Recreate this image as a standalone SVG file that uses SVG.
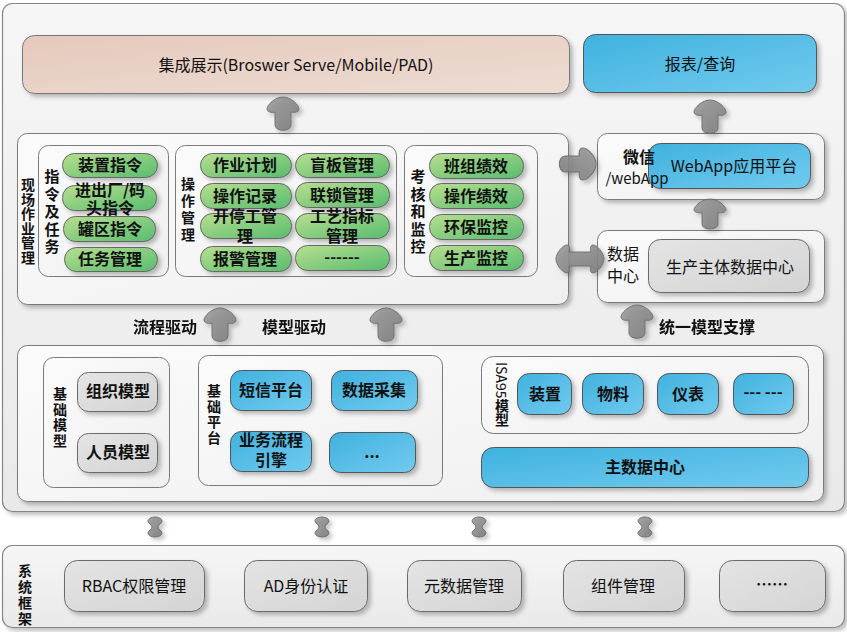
<svg xmlns="http://www.w3.org/2000/svg" xmlns:xlink="http://www.w3.org/1999/xlink" width="847" height="632" viewBox="0 0 847 632">
<defs>
<linearGradient id="gOuter" x1="0" y1="0" x2="0" y2="1"><stop offset="0" stop-color="#f6f6f6"/><stop offset="1" stop-color="#e9e9e9"/></linearGradient>
<linearGradient id="gBox" x1="0" y1="0" x2="1" y2="1"><stop offset="0" stop-color="#fbfbfb"/><stop offset="1" stop-color="#efefef"/></linearGradient>
<linearGradient id="gGreen" x1="0" y1="0" x2="1" y2="1"><stop offset="0" stop-color="#b8de90"/><stop offset="1" stop-color="#58bc6e"/></linearGradient>
<linearGradient id="gBlue" x1="0" y1="0" x2="1" y2="1"><stop offset="0" stop-color="#3fb2df"/><stop offset="1" stop-color="#72caee"/></linearGradient>
<linearGradient id="gGray" x1="0" y1="0" x2="1" y2="1"><stop offset="0" stop-color="#e4e4e4"/><stop offset="1" stop-color="#d4d4d4"/></linearGradient>
<linearGradient id="gPink" x1="0" y1="0" x2="1" y2="1"><stop offset="0" stop-color="#e6c9bc"/><stop offset="1" stop-color="#eddcd3"/></linearGradient>
<linearGradient id="gArrow" x1="0" y1="0" x2="1" y2="1"><stop offset="0" stop-color="#9a9a9a"/><stop offset="1" stop-color="#7c7c7c"/></linearGradient>
<filter id="sh" x="-10%" y="-20%" width="130%" height="150%"><feDropShadow dx="3" dy="3" stdDeviation="2" flood-color="#000" flood-opacity="0.25"/></filter>
<path id="up" d="M0,0 C8,0 16,8 16,12 C16,15 11,16 8,15 L8,28 C8,35 -8,35 -8,28 L-8,15 C-11,16 -16,15 -16,12 C-16,8 -8,0 0,0 Z"/>
<path id="bih" d="M-24,0 C-24,-6 -17,-14 -13,-14 C-10,-14 -10,-10 -11,-7 L11,-7 C10,-10 10,-14 13,-14 C17,-14 24,-6 24,0 C24,6 17,14 13,14 C10,14 10,10 11,7 L-11,7 C-10,10 -10,14 -13,14 C-17,14 -24,6 -24,0 Z"/>
<path id="biv" d="M0,-10 C4,-10 7,-8 7,-6 C7,-3 3,-3 3,0 C3,3 7,3 7,6 C7,8 4,10 0,10 C-4,10 -7,8 -7,6 C-7,3 -3,3 -3,0 C-3,-3 -7,-3 -7,-6 C-7,-8 -4,-10 0,-10 Z"/>
</defs>
<style>
.outer{fill:url(#gOuter);stroke:#858585;stroke-width:1.2}
.box{fill:url(#gBox);stroke:#7a7a7a;stroke-width:1}
.green{fill:url(#gGreen);stroke:#666;stroke-width:1}
.blue{fill:url(#gBlue);stroke:#555;stroke-width:1}
.gray{fill:url(#gGray);stroke:#6a6a6a;stroke-width:1}
.pink{fill:url(#gPink);stroke:#777;stroke-width:1}
.arrow{fill:url(#gArrow);stroke:#666;stroke-width:1;opacity:0.9}
.t{font-family:"Noto Sans CJK SC","Noto Sans",sans-serif;font-size:16px;font-weight:bold;fill:#111;text-anchor:middle}
.tn{font-family:"Noto Sans CJK SC","Noto Sans",sans-serif;font-size:16px;font-weight:normal;fill:#111;text-anchor:middle}
.v{font-family:"Noto Sans CJK SC","Noto Sans",sans-serif;font-size:14px;font-weight:bold;fill:#111;writing-mode:vertical-rl;text-anchor:start}
</style>

<!-- outer containers -->
<g id="mainContainer"><rect class="outer" x="2.5" y="3.5" width="842" height="508" rx="10" filter="url(#sh)"/></g>

<g id="display"><rect class="pink" x="22.5" y="35.5" width="547" height="58" rx="12" filter="url(#sh)"/>
<text class="tn" x="296" y="71">集成展示(Broswer Serve/Mobile/PAD)</text></g>
<g id="report"><rect class="blue" x="583.5" y="34.5" width="233" height="58" rx="12" filter="url(#sh)"/>
<text class="tn" x="700" y="70">报表/查询</text></g>

<!-- 现场作业管理 -->
<g id="fieldOps"><rect class="box" x="17.5" y="133.5" width="551" height="171" rx="10" filter="url(#sh)"/>
<text class="v" x="28" y="178" style="letter-spacing:0.5px">现场作业管理</text></g>

<g id="orders"><rect class="box" x="38.5" y="145.5" width="130" height="131" rx="10"/>
<text class="v" x="52" y="169" style="font-size:15px;letter-spacing:2.5px">指令及任务</text>
<rect class="green" x="62.5" y="153.5" width="95" height="24" rx="12" filter="url(#sh)"/><text class="t" x="110" y="171">装置指令</text>
<rect class="green" x="62.5" y="185.5" width="94" height="25" rx="12" filter="url(#sh)"/><text class="t"><tspan x="110" y="196">进出厂/码</tspan><tspan x="110" y="214">头指令</tspan></text>
<rect class="green" x="63.5" y="216.5" width="92" height="25" rx="12" filter="url(#sh)"/><text class="t" x="110" y="235">罐区指令</text>
<rect class="green" x="64.5" y="247.5" width="93" height="24" rx="12" filter="url(#sh)"/><text class="t" x="110" y="265">任务管理</text></g>

<g id="opsMgmt"><rect class="box" x="175.5" y="145.5" width="221" height="131" rx="10"/>
<text class="v" x="188" y="177" style="letter-spacing:3px">操作管理</text>
<rect class="green" x="200.5" y="153.5" width="91" height="24" rx="12" filter="url(#sh)"/><text class="t" x="245" y="171">作业计划</text>
<rect class="green" x="200.5" y="183.5" width="91" height="25" rx="12" filter="url(#sh)"/><text class="t" x="245" y="202">操作记录</text>
<rect class="green" x="200.5" y="213.5" width="91" height="25" rx="12" filter="url(#sh)"/><text class="t"><tspan x="245" y="222">开停工管</tspan><tspan x="245" y="242">理</tspan></text>
<rect class="green" x="200.5" y="246.5" width="91" height="25" rx="12" filter="url(#sh)"/><text class="t" x="245" y="265">报警管理</text>
<rect class="green" x="295.5" y="153.5" width="94" height="24" rx="12" filter="url(#sh)"/><text class="t" x="342" y="171">盲板管理</text>
<rect class="green" x="295.5" y="182.5" width="94" height="25" rx="12" filter="url(#sh)"/><text class="t" x="342" y="201">联锁管理</text>
<rect class="green" x="295.5" y="213.5" width="94" height="25" rx="12" filter="url(#sh)"/><text class="t"><tspan x="342" y="222">工艺指标</tspan><tspan x="342" y="242">管理</tspan></text>
<rect class="green" x="295.5" y="245.5" width="94" height="25" rx="12" filter="url(#sh)"/><text class="t" x="342" y="263">------</text></g>

<g id="assess"><rect class="box" x="404.5" y="145.5" width="133" height="131" rx="10"/>
<text class="v" x="418" y="169" style="font-size:15px;letter-spacing:2.5px">考核和监控</text>
<rect class="green" x="429.5" y="153.5" width="94" height="25" rx="12" filter="url(#sh)"/><text class="t" x="476" y="172">班组绩效</text>
<rect class="green" x="429.5" y="183.5" width="94" height="25" rx="12" filter="url(#sh)"/><text class="t" x="476" y="202">操作绩效</text>
<rect class="green" x="429.5" y="214.5" width="94" height="25" rx="12" filter="url(#sh)"/><text class="t" x="476" y="233">环保监控</text>
<rect class="green" x="429.5" y="245.5" width="94" height="25" rx="12" filter="url(#sh)"/><text class="t" x="476" y="264">生产监控</text></g>

<!-- right column -->
<g id="wechat"><rect class="box" x="597.5" y="133.5" width="227" height="66" rx="10" filter="url(#sh)"/>
<rect class="blue" x="648.5" y="143.5" width="162" height="45" rx="12" filter="url(#sh)"/>
<text class="tn" x="734" y="172">WebApp应用平台</text>
<text class="t" x="639" y="163">微信</text>
<text class="tn" style="font-size:15px" x="637" y="184">/webApp</text></g>

<g id="dataCenter"><rect class="box" x="597.5" y="230.5" width="227" height="72" rx="10" filter="url(#sh)"/>
<rect class="gray" x="648.5" y="239.5" width="161" height="53" rx="12" filter="url(#sh)"/>
<text class="tn" x="730" y="273">生产主体数据中心</text>
<text class="tn"><tspan x="623" y="260">数据</tspan><tspan x="623" y="282">中心</tspan></text></g>

<!-- bottom section -->
<g id="foundation"><rect class="box" x="17.5" y="345.5" width="806" height="156" rx="10" filter="url(#sh)"/></g>

<g id="baseModel"><rect class="box" x="43.5" y="357.5" width="126" height="130" rx="10"/>
<text class="v" x="60" y="387" style="letter-spacing:1.5px">基础模型</text>
<rect class="gray" x="77.5" y="372.5" width="80" height="39" rx="11" filter="url(#sh)"/><text class="t" x="118" y="397">组织模型</text>
<rect class="gray" x="77.5" y="433.5" width="80" height="39" rx="11" filter="url(#sh)"/><text class="t" x="118" y="458">人员模型</text></g>

<g id="basePlatform"><rect class="box" x="198.5" y="355.5" width="244" height="130" rx="10"/>
<text class="v" x="214" y="384" style="letter-spacing:1.5px">基础平台</text>
<rect class="blue" x="230.5" y="370.5" width="81" height="40" rx="11" filter="url(#sh)"/><text class="t" x="271" y="396">短信平台</text>
<rect class="blue" x="331.5" y="370.5" width="86" height="40" rx="11" filter="url(#sh)"/><text class="t" x="374" y="396">数据采集</text>
<rect class="blue" x="230.5" y="431.5" width="81" height="40" rx="11" filter="url(#sh)"/><text class="t"><tspan x="271" y="446">业务流程</tspan><tspan x="271" y="466">引擎</tspan></text>
<rect class="blue" x="329.5" y="432.5" width="86" height="40" rx="11" filter="url(#sh)"/><text class="t" x="372" y="458">...</text></g>

<g id="isa95"><rect class="box" x="481.5" y="356.5" width="327" height="77" rx="12"/>
<text class="v" x="502" y="362" style="font-weight:normal">ISA95<tspan style="font-weight:bold">模型</tspan></text>
<rect class="blue" x="517.5" y="373.5" width="54" height="41" rx="12" filter="url(#sh)"/><text class="t" x="545" y="400">装置</text>
<rect class="blue" x="582.5" y="373.5" width="61" height="41" rx="12" filter="url(#sh)"/><text class="t" x="613" y="400">物料</text>
<rect class="blue" x="657.5" y="373.5" width="61" height="41" rx="12" filter="url(#sh)"/><text class="t" x="688" y="400">仪表</text>
<rect class="blue" x="733.5" y="373.5" width="60" height="41" rx="12" filter="url(#sh)"/><text class="t" x="763" y="398">--- ---</text></g>

<g id="masterData"><rect class="blue" x="481.5" y="447.5" width="327" height="40" rx="12" filter="url(#sh)"/>
<text class="t" x="645" y="473">主数据中心</text></g>

<!-- system framework -->
<g id="sysFramework"><rect class="outer" x="2.5" y="545.5" width="842" height="82" rx="10" filter="url(#sh)"/>
<text class="v" x="25" y="564" style="letter-spacing:2px">系统框架</text></g>
<g id="rbac"><rect class="gray" x="64.5" y="560.5" width="140" height="51" rx="13" filter="url(#sh)"/><text class="tn" x="134" y="592">RBAC权限管理</text></g>
<g id="ad"><rect class="gray" x="244.5" y="560.5" width="123" height="51" rx="13" filter="url(#sh)"/><text class="tn" x="306" y="592">AD身份认证</text></g>
<g id="meta"><rect class="gray" x="407.5" y="560.5" width="114" height="51" rx="13" filter="url(#sh)"/><text class="tn" x="464" y="592">元数据管理</text></g>
<g id="component"><rect class="gray" x="563.5" y="560.5" width="121" height="51" rx="13" filter="url(#sh)"/><text class="tn" x="623" y="592">组件管理</text></g>
<g id="more"><rect class="gray" x="719.5" y="560.5" width="106" height="51" rx="13" filter="url(#sh)"/><text class="t" x="772" y="590">……</text></g>

<!-- connectors -->
<g id="connectors" filter="url(#sh)">
<use href="#up" class="arrow" transform="translate(283,97)"/>
<use href="#up" class="arrow" transform="translate(710,100)"/>
<use href="#up" class="arrow" transform="translate(710,199) scale(1,0.9)"/>
<use href="#up" class="arrow" transform="translate(637,305)"/>
<use href="#up" class="arrow" transform="translate(220,308)"/>
<use href="#up" class="arrow" transform="translate(386,308)"/>
<use href="#up" class="arrow" transform="translate(596,164) rotate(90) scale(1,1.1)"/>
<use href="#bih" class="arrow" transform="translate(580,259)"/>
<use href="#biv" class="arrow" transform="translate(155,527)"/>
<use href="#biv" class="arrow" transform="translate(322,527)"/>
<use href="#biv" class="arrow" transform="translate(479,527)"/>
<use href="#biv" class="arrow" transform="translate(645,527)"/>
</g>

<!-- arrow labels -->
<text class="t" x="165" y="333">流程驱动</text>
<text class="t" x="294" y="333">模型驱动</text>
<text class="t" x="707" y="333">统一模型支撑</text>
</svg>
